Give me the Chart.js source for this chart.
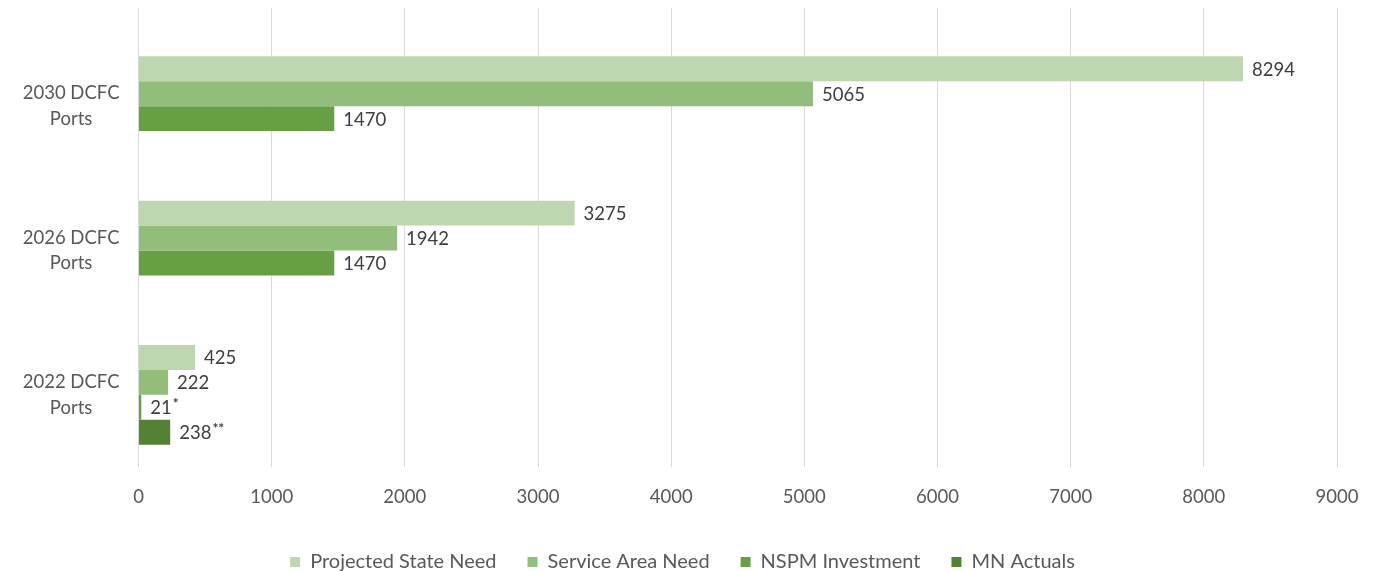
<!DOCTYPE html>
<html lang="en">
<head>
  <meta charset="UTF-8"/>
  <title>DCFC Ports</title>
  <script src="https://cdn.jsdelivr.net/npm/chart.js"></script>
  <style>
    html, body { margin: 0; padding: 0; background: #fff; overflow: hidden; }
    .wrap { position: relative; width: 1382px; height: 571px; }
  </style>
</head>
<body>
  <div class="wrap"><canvas id="portsChart"></canvas></div>
  <script>
const categories = [['2030 DCFC', 'Ports'], ['2026 DCFC', 'Ports'], ['2022 DCFC', 'Ports']];
const seriesNames = ['Projected State Need', 'Service Area Need', 'NSPM Investment', 'MN Actuals'];
const projectedStateNeed = [8294, 3275, 425];
const serviceAreaNeed = [5065, 1942, 222];
const nspmInvestment = [1470, 1470, 21];
const mnActuals = [null, null, 238];
const nspmNotes = ['', '', '*'];
const mnNotes = ['', '', '**'];
const xMin = 0, xMax = 9000, xStep = 1000;

const colors = ['#bfd7b1', '#93bd7a', '#66a043', '#548235'];
const FONT = 'Lato, "Open Sans", sans-serif';
const FS = 18.5;

// value labels at bar ends, with superscript footnote marks
const barLabels = {
  id: 'barLabels',
  afterDatasetsDraw(chart) {
    const ctx = chart.ctx;
    ctx.save();
    ctx.textBaseline = 'middle';
    ctx.fillStyle = '#404040';
    chart.data.datasets.forEach((ds, di) => {
      const meta = chart.getDatasetMeta(di);
      meta.data.forEach((bar, i) => {
        const v = ds.data[i];
        if (v == null) return;
        const txt = String(v);
        const x = bar.x + 9;
        ctx.font = FS + 'px ' + FONT;
        ctx.fillText(txt, x, bar.y + 1);
        const note = ds.notes ? ds.notes[i] : '';
        if (note) {
          const w = ctx.measureText(txt).width;
          ctx.font = 'bold 14px ' + FONT;
          ctx.fillText(note, x + w + 1, bar.y - 4);
        }
      });
    });
    ctx.restore();
  }
};

// vertical gridlines continue above the plot, as in the original
const gridAbove = {
  id: 'gridAbove',
  beforeDatasetsDraw(chart) {
    const ctx = chart.ctx, sx = chart.scales.x;
    ctx.save();
    ctx.strokeStyle = '#d9d9d9';
    ctx.lineWidth = 1;
    sx.ticks.forEach(t => {
      const px = Math.round(sx.getPixelForValue(t.value) - 0.5) + 0.5;
      ctx.beginPath();
      ctx.moveTo(px, 8);
      ctx.lineTo(px, chart.chartArea.top);
      ctx.stroke();
    });
    ctx.restore();
  }
};

// keep legend spacing wide but the legend band short, nudged right a little
const legendBand = {
  id: 'legendBand',
  beforeInit(chart) {
    const lg = chart.legend;
    if (!lg) return;
    const fit = lg.fit;
    lg.fit = function () { fit.call(this); this.height = 50; };
  },
  afterLayout(chart) {
    const lg = chart.legend;
    if (!lg) return;
    lg.left += 14;
    lg.right += 14;
  }
};

new Chart(document.getElementById('portsChart'), {
  type: 'bar',
  data: {
    labels: categories,
    datasets: [
      { label: seriesNames[0], data: projectedStateNeed, backgroundColor: colors[0] },
      { label: seriesNames[1], data: serviceAreaNeed, backgroundColor: colors[1] },
      { label: seriesNames[2], data: nspmInvestment, backgroundColor: colors[2], notes: nspmNotes },
      { label: seriesNames[3], data: mnActuals, backgroundColor: colors[3], notes: mnNotes }
    ]
  },
  options: {
    indexAxis: 'y',
    responsive: true,
    maintainAspectRatio: false,
    animation: false,
    datasets: { bar: { barPercentage: 1, categoryPercentage: 0.69, borderWidth: 0 } },
    layout: { padding: { top: 34, right: 45, bottom: 0, left: 0 } },
    plugins: {
      legend: {
        position: 'bottom',
        labels: { boxWidth: 10, boxHeight: 10, padding: 31, color: '#595959', font: { family: FONT, size: 20 } }
      },
      tooltip: { enabled: false }
    },
    scales: {
      x: {
        min: xMin, max: xMax,
        ticks: { stepSize: xStep, color: '#595959', padding: 19, font: { family: FONT, size: FS }, callback: v => String(v) },
        grid: { color: '#d9d9d9', drawTicks: false },
        border: { display: false },
        afterFit(s) { s.height = 54; }
      },
      y: {
        ticks: { color: '#595959', padding: 19, crossAlign: 'center', font: { family: FONT, size: FS, lineHeight: 1.4 } },
        grid: { display: false, drawTicks: false },
        border: { display: false },
        afterFit(s) { s.width = 138.5; s.paddingTop = 0; s.paddingBottom = 0; }
      }
    }
  },
  plugins: [legendBand, gridAbove, barLabels]
});
  </script>
</body>
</html>
